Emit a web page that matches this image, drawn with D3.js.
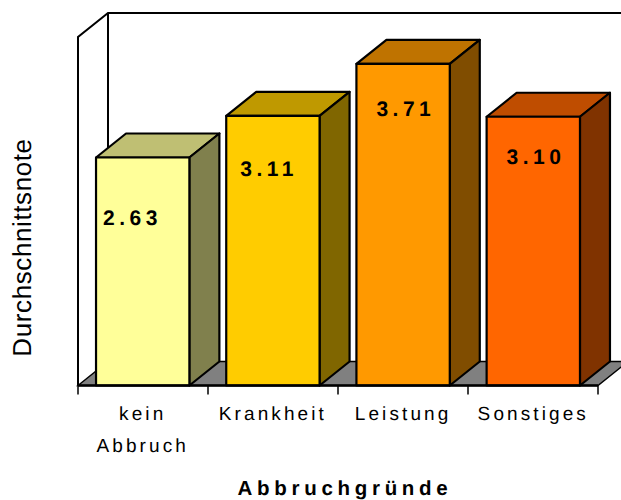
<!DOCTYPE html>
<html><head><meta charset="utf-8">
<style>html,body{margin:0;padding:0;background:#fff}svg{display:block}text{font-family:"Liberation Sans",Arial,sans-serif;fill:#000;text-rendering:geometricPrecision}</style>
<script src="https://cdn.jsdelivr.net/npm/d3@7"></script></head>
<body><svg id="c" width="621" height="500"></svg>
<script>
const categories = ["kein Abbruch","Krankheit","Leistung","Sonstiges"];
const tickLines = [["kein","Abbruch"],["Krankheit"],["Leistung"],["Sonstiges"]];
const values = [2.63,3.11,3.71,3.10];
const valueLabels = ["2.63","3.11","3.71","3.10"];
const frontColors = ["#FFFF99","#FFCC00","#FF9900","#FF6600"];
const topColors = ["#BFBF73","#BF9900","#BF7300","#BF4D00"];
const sideColors = ["#80804D","#806600","#804D00","#803300"];
const labelDx = [7,14,20,20];
const labelDy = [67,60,52,47];

const svg = d3.select("#c");
const x = d3.scaleBand().domain(categories).range([78,598]).paddingInner(.283).paddingOuter(.1385);
const y = d3.scaleLinear().domain([0,4.02]).range([385.5,37]);
const dx = 30, dy = -24, y0 = y(0), yT = y.range()[1];
const poly = (pts,fill,w=2.2) => svg.append("polygon").attr("points",pts.map(p=>p.join(",")).join(" "))
  .attr("fill",fill).attr("stroke","#000").attr("stroke-width",w).attr("stroke-linejoin","round");
const [xL,xR] = x.range();

// back walls
svg.append("path").attr("d",`M${xL},${y0}V${yT}L${xL+dx},${yT+dy}H640M${xL+dx},${yT+dy}V${y0+dy}`)
  .attr("fill","none").attr("stroke","#000").attr("stroke-width",2);
// floor
svg.append("path").attr("d",`M${xL},${y0}L${xL+dx},${y0+dy}H${xR+dx}L${xR},${y0}Z`).attr("fill","#808080").attr("stroke","#000").attr("stroke-width",1.5);

categories.forEach((c,i)=>{
  const l=x(c), r=l+x.bandwidth(), t=y(values[i]);
  poly([[l,t],[l+dx,t+dy],[r+dx,t+dy],[r,t]],topColors[i]);
  poly([[r,t],[r+dx,t+dy],[r+dx,y0+dy],[r,y0]],sideColors[i]);
  poly([[l,t],[r,t],[r,y0],[l,y0]],frontColors[i]);
  svg.append("text").attr("x",l+labelDx[i]).attr("y",t+labelDy[i])
    .attr("font-size",21).attr("font-weight","bold").attr("letter-spacing",4.5).text(valueLabels[i]);
});

// front axis and ticks
svg.append("line").attr("x1",xL).attr("x2",xR).attr("y1",y0).attr("y2",y0).attr("stroke","#000").attr("stroke-width",2.5);
const step = (xR-xL)/categories.length;
d3.range(categories.length+1).forEach(i=>{
  const tx = xL + i*step;
  svg.append("line").attr("x1",tx).attr("x2",tx).attr("y1",y0).attr("y2",y0+9).attr("stroke","#000").attr("stroke-width",1.5);
});
categories.forEach((c,i)=>{
  tickLines[i].forEach((s,j)=>{
    svg.append("text").attr("x",x(c)+x.bandwidth()/2).attr("y",420+j*32).attr("text-anchor","middle")
      .attr("font-size",19).attr("letter-spacing",3.1).text(s);
  });
});
svg.append("text").attr("x",345).attr("y",495).attr("text-anchor","middle").attr("font-size",20.5).attr("font-weight","bold").attr("letter-spacing",4.7).text("Abbruchgründe");
svg.append("text").attr("transform","translate(31,247.5) rotate(-90)").attr("text-anchor","middle").attr("font-size",26).attr("letter-spacing",.6).text("Durchschnittsnote");
</script></body></html>
